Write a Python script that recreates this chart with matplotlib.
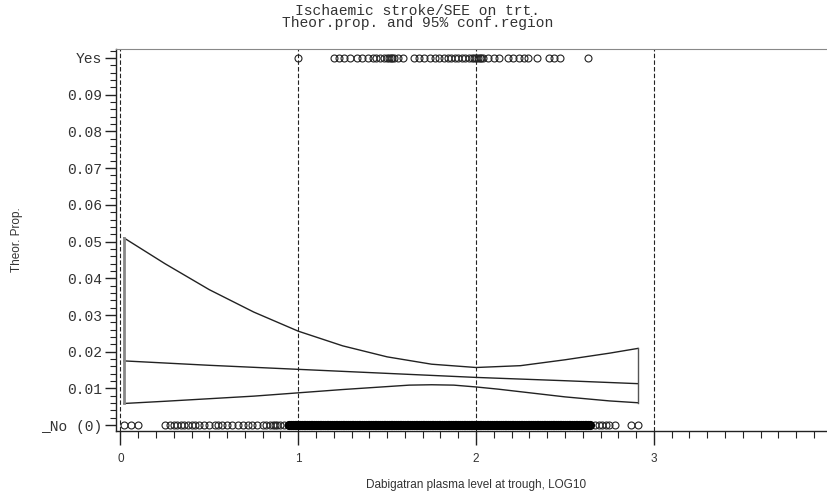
#Firstly we import the pyplot module
import matplotlib.pyplot as plt
from matplotlib.ticker import MultipleLocator

#Values
#Confidence region: x positions and upper / fitted / lower proportions
upper_x = [0.02, 0.25, 0.50, 0.75, 1.00, 1.25, 1.50, 1.75, 2.00, 2.25, 2.50, 2.75, 2.91]
upper_y = [0.0510, 0.0440, 0.0369, 0.0308, 0.0256, 0.0216, 0.0186, 0.0166, 0.0157,
           0.0162, 0.0178, 0.0196, 0.0209]

fit_x = [0.02, 0.50, 1.00, 1.50, 2.00, 2.50, 2.91]
fit_y = [0.0175, 0.0163, 0.0152, 0.0141, 0.0130, 0.0121, 0.0113]

lower_x = [0.02, 0.25, 0.50, 0.75, 1.00, 1.25, 1.50, 1.625, 1.75, 1.875, 2.00, 2.125,
           2.25, 2.50, 2.75, 2.91]
lower_y = [0.0059, 0.0065, 0.0072, 0.0079, 0.0088, 0.0097, 0.0105, 0.0109, 0.0110, 0.0109,
           0.0104, 0.0098, 0.0091, 0.0077, 0.0066, 0.0061]

#Patients with an event (Yes)
yes_x = [1.00,
         1.20, 1.23, 1.26, 1.29, 1.33, 1.36, 1.39, 1.42, 1.44, 1.46, 1.48, 1.50, 1.51,
         1.52, 1.53, 1.54, 1.56, 1.59,
         1.65, 1.68, 1.71, 1.74, 1.77, 1.79, 1.82, 1.84, 1.86, 1.88, 1.90, 1.92, 1.94,
         1.96, 1.98, 1.99, 2.00, 2.01, 2.02, 2.03, 2.04, 2.07, 2.10, 2.13,
         2.18, 2.21, 2.24, 2.27, 2.29, 2.34, 2.41, 2.44, 2.47, 2.63]

#Patients without an event (No), the scattered ones
no_sparse_x = [0.02, 0.06, 0.10,
               0.25, 0.28, 0.30, 0.32, 0.34, 0.36, 0.38, 0.40, 0.42, 0.44, 0.47, 0.50, 0.53,
               0.55, 0.57, 0.60, 0.63, 0.66, 0.69, 0.72, 0.74, 0.77, 0.80, 0.82, 0.84, 0.86,
               0.87, 0.88, 0.90, 0.92, 0.94,
               2.67, 2.69, 2.71, 2.73, 2.75, 2.78, 2.87, 2.91]

#Patients without an event (No), the solid black run
no_dense_x = [0.95, 0.96, 0.97, 0.98, 0.99, 1.00, 1.01, 1.02, 1.03, 1.04,
              1.05, 1.06, 1.07, 1.08, 1.09, 1.10, 1.11, 1.12, 1.13, 1.14,
              1.15, 1.16, 1.17, 1.18, 1.19, 1.20, 1.21, 1.22, 1.23, 1.24,
              1.25, 1.26, 1.27, 1.28, 1.29, 1.30, 1.31, 1.32, 1.33, 1.34,
              1.35, 1.36, 1.37, 1.38, 1.39, 1.40, 1.41, 1.42, 1.43, 1.44,
              1.45, 1.46, 1.47, 1.48, 1.49, 1.50, 1.51, 1.52, 1.53, 1.54,
              1.55, 1.56, 1.57, 1.58, 1.59, 1.60, 1.61, 1.62, 1.63, 1.64,
              1.65, 1.66, 1.67, 1.68, 1.69, 1.70, 1.71, 1.72, 1.73, 1.74,
              1.75, 1.76, 1.77, 1.78, 1.79, 1.80, 1.81, 1.82, 1.83, 1.84,
              1.85, 1.86, 1.87, 1.88, 1.89, 1.90, 1.91, 1.92, 1.93, 1.94,
              1.95, 1.96, 1.97, 1.98, 1.99, 2.00, 2.01, 2.02, 2.03, 2.04,
              2.05, 2.06, 2.07, 2.08, 2.09, 2.10, 2.11, 2.12, 2.13, 2.14,
              2.15, 2.16, 2.17, 2.18, 2.19, 2.20, 2.21, 2.22, 2.23, 2.24,
              2.25, 2.26, 2.27, 2.28, 2.29, 2.30, 2.31, 2.32, 2.33, 2.34,
              2.35, 2.36, 2.37, 2.38, 2.39, 2.40, 2.41, 2.42, 2.43, 2.44,
              2.45, 2.46, 2.47, 2.48, 2.49, 2.50, 2.51, 2.52, 2.53, 2.54,
              2.55, 2.56, 2.57, 2.58, 2.59, 2.60, 2.61, 2.62, 2.63, 2.64]

#Outcome levels on the y axis
no_level = 0.0
yes_level = 0.1

#Tick labels
y_ticks = [0.0, 0.01, 0.02, 0.03, 0.04, 0.05, 0.06, 0.07, 0.08, 0.09, 0.1]
y_tick_labels = ['_No (0)', '0.01', '0.02', '0.03', '0.04', '0.05', '0.06', '0.07', '0.08', '0.09', 'Yes']
x_ticks = [0, 1, 2, 3]
x_tick_labels = ['0', '1', '2', '3']
ref_lines = [0, 1, 2, 3]

mono = 'Liberation Mono'
sans = 'Liberation Sans'
ink = '#222222'
grey_text = '#333333'

#Setting up the figure
fig = plt.figure(figsize=(8.28, 4.98), dpi=100)
ax = fig.add_axes([0.140, 0.1345, 0.860, 0.7671])

#Reference lines
for xr in ref_lines:
    ax.axvline(xr, color=ink, lw=0.8, dashes=(4, 2), zorder=1)

#Confidence region and fitted line
ax.plot(upper_x, upper_y, color=ink, lw=1.0)
ax.plot(fit_x, fit_y, color=ink, lw=1.0)
ax.plot(lower_x, lower_y, color=ink, lw=1.0)
ax.plot([lower_x[0], upper_x[0]], [lower_y[0], upper_y[0]], color='#888888', lw=2.0)
ax.plot([lower_x[-1], upper_x[-1]], [lower_y[-1], upper_y[-1]], color='#555555', lw=1.0)

#Observed outcomes as open circles
ax.plot(yes_x, [yes_level] * len(yes_x), linestyle='none', marker='o', ms=5,
        mfc='none', mec=ink, mew=0.8)
ax.plot(no_sparse_x, [no_level] * len(no_sparse_x), linestyle='none', marker='o', ms=5,
        mfc='none', mec=ink, mew=0.8)
ax.plot(no_dense_x, [no_level] * len(no_dense_x), linestyle='none', marker='o', ms=5,
        mfc='none', mec='black', mew=1.6)

#Axes limits and spines
ax.set_xlim(-0.025, 3.979)
ax.set_ylim(-0.0016, 0.10245)
ax.spines['right'].set_visible(False)
ax.spines['top'].set_color('#888888')
for side in ['left', 'bottom']:
    ax.spines[side].set_color(ink)
    ax.spines[side].set_linewidth(1.0)

#Ticks
ax.set_yticks(y_ticks)
ax.set_yticklabels(y_tick_labels, fontfamily=mono, fontsize=10.5, color=grey_text)
ax.yaxis.set_minor_locator(MultipleLocator(0.002))
ax.tick_params(axis='y', which='major', length=8, width=1.0, pad=2, color=ink)
ax.tick_params(axis='y', which='minor', length=4, width=0.8, color=ink)

ax.set_xticks(x_ticks)
ax.set_xticklabels(x_tick_labels, fontfamily=sans, fontsize=8.5, color=grey_text)
ax.xaxis.set_minor_locator(MultipleLocator(0.1))
ax.tick_params(axis='x', which='major', length=10, width=1.0, pad=6, color=ink)
ax.tick_params(axis='x', which='minor', length=5, width=0.8, color=ink)

#Titles and axis labels
fig.text(0.504, 1 - 17 / 498, 'Ischaemic stroke/SEE on trt.\nTheor.prop. and 95% conf.region',
         ha='center', va='center', multialignment='center', linespacing=0.85,
         fontfamily=mono, fontsize=10.5, color=grey_text)
fig.text(17 / 828, 1 - 240 / 498, 'Theor. Prop.', rotation=90, ha='center', va='center',
         fontfamily=sans, fontsize=8.5, color=grey_text)
fig.text(476 / 828, 1 - 485 / 498, 'Dabigatran plasma level at trough, LOG10', ha='center',
         va='center', fontfamily=sans, fontsize=8.5, color=grey_text)

fig.savefig('out.png', dpi=100)
